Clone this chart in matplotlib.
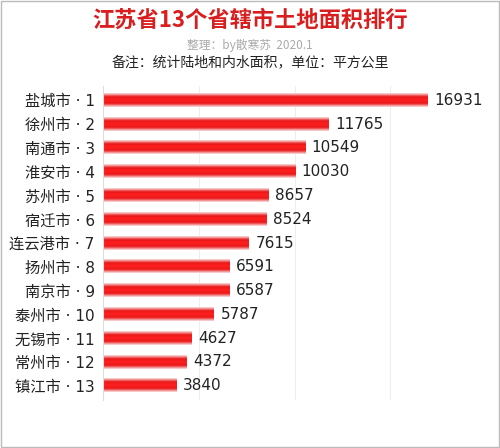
import numpy as np
import matplotlib.pyplot as plt
from matplotlib.colors import LinearSegmentedColormap

plt.rcParams['font.family'] = ['Noto Sans CJK SC', 'DejaVu Sans']

cities = ['盐城市', '徐州市', '南通市', '淮安市', '苏州市', '宿迁市', '连云港市',
          '扬州市', '南京市', '泰州市', '无锡市', '常州市', '镇江市']
areas = [16931, 11765, 10549, 10030, 8657, 8524, 7615, 6591, 6587, 5787, 4627, 4372, 3840]
labels = [f'{c} · {i + 1}' for i, c in enumerate(cities)]

fig = plt.figure(figsize=(5, 4.48), dpi=100)
ax = fig.add_axes([0.206, 0.107, 0.766, 0.701])

cmap = LinearSegmentedColormap.from_list('tube', ['#fbe0e0', '#e81818', '#ff2020', '#e81818', '#fbe0e0'])
grad = np.linspace(0, 1, 32).reshape(-1, 1)
h = 0.55
n = len(areas)
for i, v in enumerate(areas):
    y = n - 1 - i
    ax.imshow(grad, cmap=cmap, aspect='auto', extent=[0, v, y - h / 2, y + h / 2],
              interpolation='bicubic', zorder=2)
    ax.text(v + 350, y, str(v), va='center', ha='left', fontsize=11, color='#222222',
            family=['DejaVu Sans'])

ax.set_xlim(0, 20000)
ax.set_ylim(-0.6, n - 0.4)
ax.set_yticks(range(n))
ax.set_yticklabels(labels[::-1], fontsize=11, color='#222222',
                   family=['DejaVu Sans', 'Noto Sans CJK SC'])
ax.set_xticks([5000, 10000, 15000])
ax.tick_params(axis='x', length=0, labelbottom=False)
ax.tick_params(axis='y', length=0, pad=6)
ax.grid(axis='x', color='#eeeeee', linewidth=0.8, zorder=0)
for s in ['top', 'right', 'bottom']:
    ax.spines[s].set_visible(False)
ax.spines['left'].set_color('#dddddd')

fig.text(0.5, 0.955, '江苏省13个省辖市土地面积排行', ha='center', va='center',
         fontsize=16, fontweight='bold', color='#d81e1e')
fig.text(0.5, 0.898, '整理：by散寒苏  2020.1', ha='center', va='center', fontsize=8.5, color='#aaaaaa')
fig.text(0.5, 0.862, '备注：统计陆地和内水面积，单位：平方公里', ha='center', va='center', fontsize=10, color='#222222')

fig.patches.append(plt.Rectangle((0.002, 0.002), 0.996, 0.996, transform=fig.transFigure,
                                 fill=False, edgecolor='#bbbbbb', linewidth=1))
fig.savefig('out.png', dpi=100)
